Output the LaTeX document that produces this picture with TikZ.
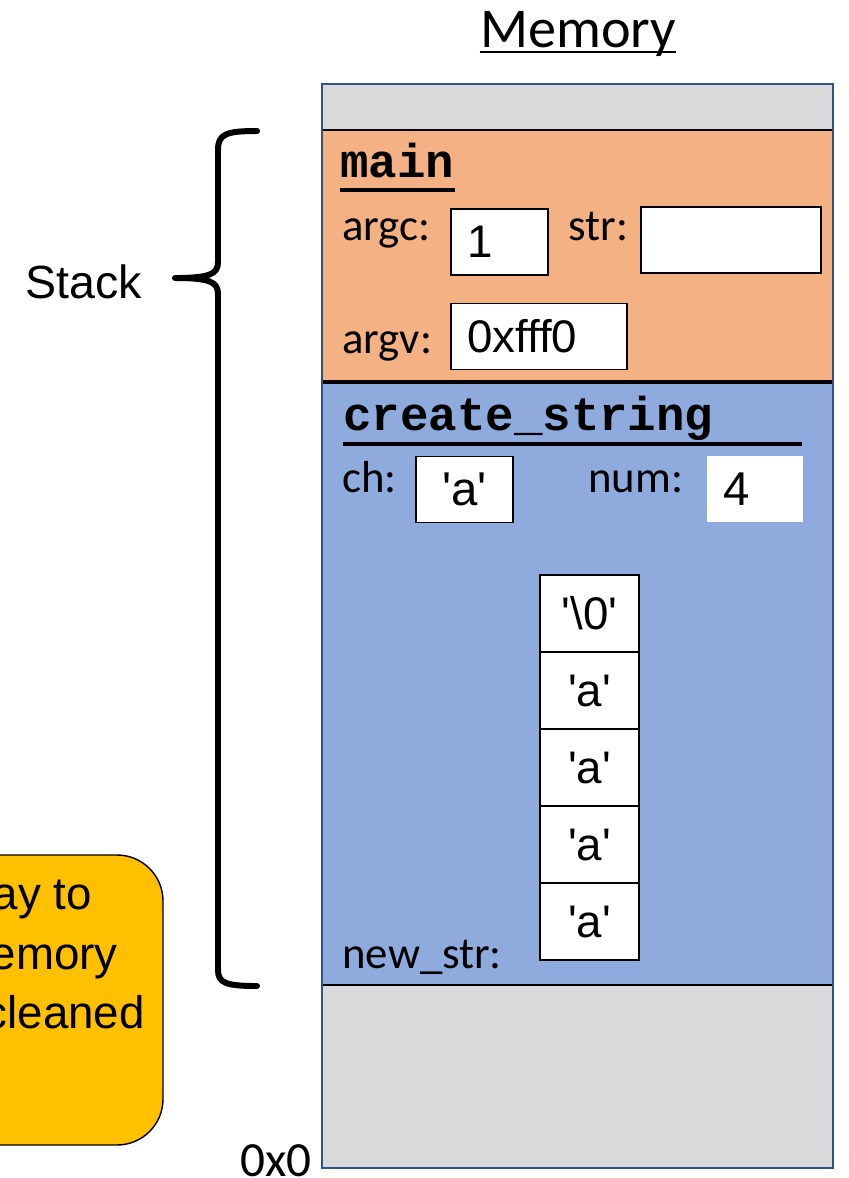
\documentclass[tikz,border=0pt]{standalone}
\usepackage{fontspec}
\setmainfont{Liberation Sans}
\newfontfamily\calfont{Carlito}
\newfontfamily\codefont{Liberation Mono}
\usepackage{xcolor}
\usetikzlibrary{positioning}
\definecolor{cGrey}{RGB}{217,217,217}
\definecolor{cMain}{RGB}{244,177,131}
\definecolor{cCreate}{RGB}{143,170,220}
\definecolor{cEdge}{RGB}{47,82,143}
\definecolor{cNote}{RGB}{255,192,0}
\newcommand{\charlit}[1]{\textquotesingle#1\textquotesingle}

\begin{document}
\begin{tikzpicture}[x=0.02cm, y=-0.02cm,
  lbl/.style={anchor=base west, inner sep=0pt, font=\calfont\fontsize{25.5}{30}\selectfont},
  fname/.style={anchor=base west, inner sep=0pt, font=\codefont\bfseries\fontsize{27}{32}\selectfont},
  val/.style={draw, fill=white, line width=1.1pt, inner xsep=0.32cm, inner ysep=0pt, minimum height=1.32cm, text width=#1, align=left, font=\fontsize{26}{30}\selectfont},
  cell/.style={draw, fill=white, line width=1.1pt, minimum width=1.98cm, minimum height=1.54cm, inner sep=0pt, font=\fontsize{26}{30}\selectfont},
  txt/.style={inner sep=0pt, font=\fontsize{26}{30}\selectfont},
  brace/.style={line width=3.4pt, line cap=round, line join=round}]
\useasboundingbox (0,0) rectangle (849,1178);
% memory column
\fill[cGrey] (322,84) rectangle (833,130);
\fill[cMain] (322,130) rectangle (833,382);
\fill[cCreate] (322,382) rectangle (833,985);
\fill[cGrey] (322,985) rectangle (833,1168);
\draw[line width=0.6pt] (322,130) -- (833,130);
\draw[line width=2.5pt] (322,382) -- (833,382);
\draw[line width=0.8pt] (322,985) -- (833,985);
\draw[cEdge, line width=1pt] (322,84) rectangle (833,1168);
\node[anchor=base, inner sep=0pt, font=\calfont\fontsize{32}{38}\selectfont] (memory) at (578,47) {Memory};
\draw[line width=1pt] ([yshift=-2.8pt]memory.base west) -- ([yshift=-2.8pt]memory.base east);
% main frame
\node[fname] (mainhdr) at (340,177) {main};
\draw[line width=2.8pt] ([yshift=-7.4pt]mainhdr.base west) -- ([yshift=-7.4pt]mainhdr.base east);
\node[lbl] (argclbl) at (342,240) {argc:};
\node[val=1.30cm] (argcval) at (499.5,242) {1};
\node[lbl] (strlbl) at (568,240) {str:};
\node[val=2.96cm] (strval) at (731,240) {};
\node[lbl] (argvlbl) at (342,353) {argv:};
\node[val=2.88cm] (argvval) at (539,336.5) {0xfff0};
% create_string frame
\node[fname] (cshdr) at (343,430) {create\_string};
\draw[line width=2.3pt] ([yshift=-8pt]cshdr.base west) -- ++(459,0);
\node[lbl] (chlbl) at (342,492) {ch:};
\node[val=1.30cm, align=center, font=\fontsize{27}{30}\selectfont] (chval) at (464.5,489.5) {\charlit{a}};
\node[lbl] (numlbl) at (588,492) {num:};
\node[val=1.28cm, draw=none, font=\fontsize{27}{30}\selectfont] (numval) at (755,489) {4};
\foreach \i/\t in {0/\textbackslash0,1/a,2/a,3/a,4/a}
  \node[cell] (c\i) at (589.5,613.5+77*\i) {\charlit{\t}};
\node[lbl] (newstrlbl) at (342,968) {new\_str:};
% stack brace
\node[txt, anchor=base west, font=\fontsize{26.5}{30}\selectfont] (stack) at (25,298) {Stack};
\draw[brace] (257,131) .. controls (226,131) and (218,134) .. (218,150) -- (218,262)
  .. controls (218,274) and (210,278) .. (175,278)
  .. controls (210,278) and (218,282) .. (218,294) -- (218,970)
  .. controls (218,983) and (226,986) .. (257,986);
% note
\draw[fill=cNote, line width=0.8pt, rounded corners=0.92cm] (-80,855) rectangle (163,1145);
\node[txt, anchor=base east] (note1) at (92,909) {ay to};
\node[txt, anchor=base east] (note2) at (118,969) {emory};
\node[txt, anchor=base east] (note3) at (145,1028) {cleaned};
\node[anchor=base east, inner sep=0pt, font=\calfont\fontsize{28}{32}\selectfont] (addr) at (312,1176) {0x0};
\end{tikzpicture}
\end{document}
